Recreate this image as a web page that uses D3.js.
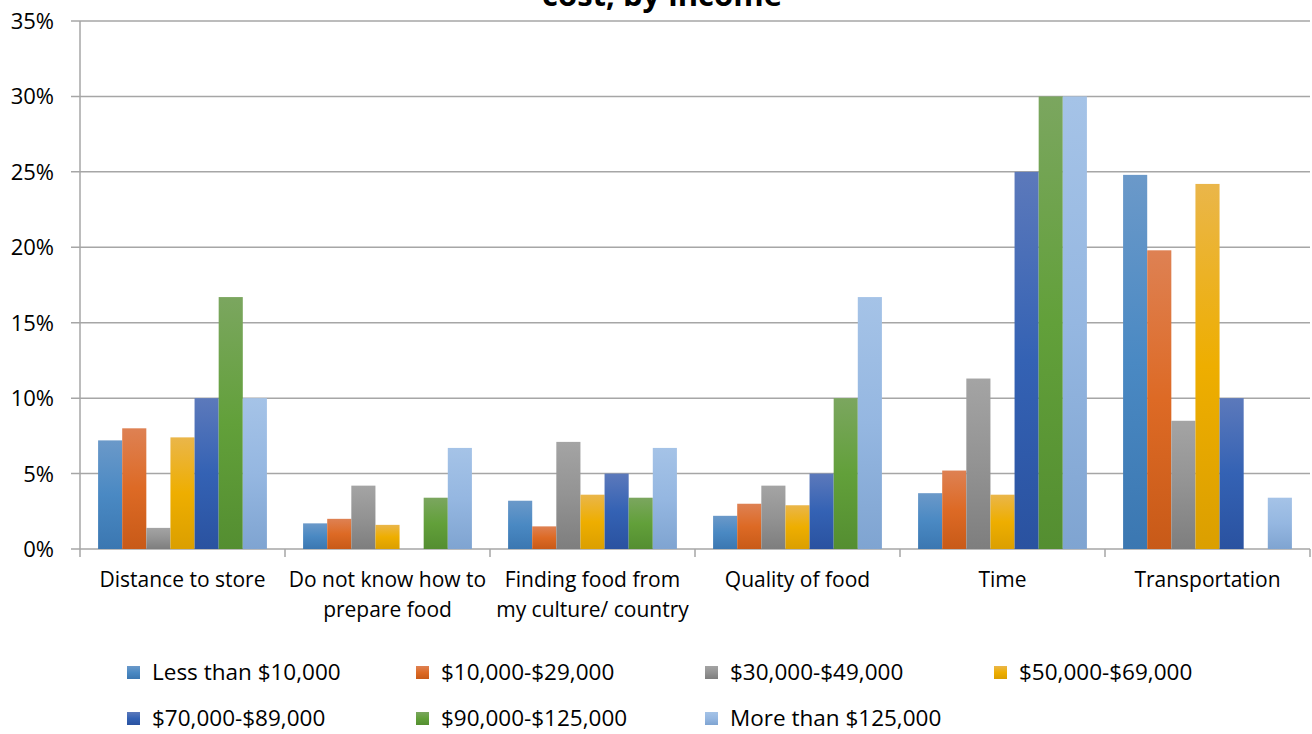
<!DOCTYPE html>
<html>
<head>
<meta charset="utf-8">
<script src="https://cdn.jsdelivr.net/npm/d3@7"></script>
<style>
  html, body { margin: 0; padding: 0; background: #fff; }
  svg { display: block; font-family: "Open Sans", sans-serif; }
</style>
</head>
<body>
<script>
// Data
const categories = [
  ["Distance to store"],
  ["Do not know how to", "prepare food"],
  ["Finding food from", "my culture/ country"],
  ["Quality of food"],
  ["Time"],
  ["Transportation"]
];
const seriesNames = [
  "Less than $10,000", "$10,000-$29,000", "$30,000-$49,000", "$50,000-$69,000",
  "$70,000-$89,000", "$90,000-$125,000", "More than $125,000"
];
// values in %, one array per income group, in category order
const lessThan10k = [7.2, 1.7, 3.2, 2.2, 3.7, 24.8];
const from10to29k = [8.0, 2.0, 1.5, 3.0, 5.2, 19.8];
const from30to49k = [1.4, 4.2, 7.1, 4.2, 11.3, 8.5];
const from50to69k = [7.4, 1.6, 3.6, 2.9, 3.6, 24.2];
const from70to89k = [10.0, 0, 5.0, 5.0, 25.0, 10.0];
const from90to125k = [16.7, 3.4, 3.4, 10.0, 30.0, 0];
const moreThan125k = [10.0, 6.7, 6.7, 16.7, 30.0, 3.4];
const seriesValues = [lessThan10k, from10to29k, from30to49k, from50to69k,
  from70to89k, from90to125k, moreThan125k];
const yTicks = [0, 5, 10, 15, 20, 25, 30, 35];

// gradient stops per series: top, middle, bottom
const colors = [
  ["#6b99c9", "#4a89c3", "#3b77b1"],
  ["#de8153", "#dd6a25", "#c85a18"],
  ["#a4a4a4", "#939393", "#7e7e7e"],
  ["#eab64a", "#eeae00", "#db9f00"],
  ["#5c79bb", "#3462b4", "#2a52a0"],
  ["#7ba65f", "#62a03a", "#548e31"],
  ["#a5c3e7", "#95b7e1", "#7fa4d1"]
];

const W = 1312, H = 734;
const plotLeft = 80, plotRight = 1310, plotTop = 21, plotBottom = 549;

const svg = d3.select("body").append("svg")
  .attr("width", W).attr("height", H);

const defs = svg.append("defs");
colors.forEach((c, i) => {
  const g = defs.append("linearGradient")
    .attr("id", "grad" + i)
    .attr("x1", 0).attr("y1", 0).attr("x2", 0).attr("y2", 1);
  g.append("stop").attr("offset", "0%").attr("stop-color", c[0]);
  g.append("stop").attr("offset", "50%").attr("stop-color", c[1]);
  g.append("stop").attr("offset", "100%").attr("stop-color", c[2]);
});

// Scales
const x0 = d3.scaleBand()
  .domain(d3.range(categories.length))
  .range([plotLeft, plotRight]);

const x1 = d3.scaleBand()
  .domain(d3.range(seriesNames.length))
  .range([0, x0.bandwidth()])
  .paddingOuter(0.75);

const y = d3.scaleLinear()
  .domain([0, 35])
  .range([plotBottom, plotTop]);

// Gridlines
svg.append("g")
  .selectAll("line")
  .data(yTicks)
  .join("line")
    .attr("x1", plotLeft - 9).attr("x2", plotRight)
    .attr("y1", d => y(d)).attr("y2", d => y(d))
    .attr("stroke", "#a6a6a6")
    .attr("stroke-width", 1.5);

// Y labels
svg.append("g")
  .selectAll("text")
  .data(yTicks)
  .join("text")
    .attr("x", 54)
    .attr("y", d => y(d) + 8)
    .attr("text-anchor", "end")
    .attr("font-size", 22)
    .attr("fill", "#000")
    .text(d => d + "%");

// Y axis line
svg.append("line")
  .attr("x1", plotLeft).attr("x2", plotLeft)
  .attr("y1", plotTop).attr("y2", plotBottom)
  .attr("stroke", "#a6a6a6").attr("stroke-width", 1.5);

// Category ticks below axis
svg.append("g")
  .selectAll("line")
  .data(d3.range(categories.length + 1))
  .join("line")
    .attr("x1", d => plotLeft + d * x0.step())
    .attr("x2", d => plotLeft + d * x0.step())
    .attr("y1", plotBottom).attr("y2", plotBottom + 8)
    .attr("stroke", "#a6a6a6").attr("stroke-width", 1.5);

// Bars
const groups = svg.append("g")
  .selectAll("g")
  .data(categories)
  .join("g")
    .attr("transform", (d, i) => `translate(${x0(i)},0)`);

groups.selectAll("rect")
  .data((d, ci) => seriesValues.map((vals, si) => ({ si, v: vals[ci] })))
  .join("rect")
    .attr("x", d => x1(d.si))
    .attr("width", x1.bandwidth())
    .attr("y", d => y(d.v))
    .attr("height", d => plotBottom - y(d.v))
    .attr("fill", d => `url(#grad${d.si})`);

// Category labels
const catLabels = svg.append("g")
  .selectAll("text")
  .data(categories)
  .join("text")
    .attr("x", (d, i) => x0(i) + x0.bandwidth() / 2)
    .attr("y", 587)
    .attr("text-anchor", "middle")
    .attr("font-size", 21)
    .attr("fill", "#000");
catLabels.selectAll("tspan")
  .data(d => d)
  .join("tspan")
    .attr("x", function () { return this.parentNode.getAttribute("x"); })
    .attr("dy", (d, i) => i === 0 ? 0 : 30)
    .text(d => d);

// Title (only lower part visible)
svg.append("text")
  .attr("x", 662)
  .attr("y", 6)
  .attr("text-anchor", "middle")
  .attr("font-weight", "bold")
  .attr("font-size", 31)
  .text("cost, by income");

// Legend
const legend = svg.append("g")
  .selectAll("g")
  .data(seriesNames)
  .join("g")
    .attr("transform", (d, i) => `translate(${127 + (i % 4) * 289},${i < 4 ? 672 : 718})`);

legend.append("rect")
  .attr("x", 0).attr("y", -6)
  .attr("width", 13).attr("height", 13)
  .attr("fill", (d, i) => `url(#grad${i})`);

legend.append("text")
  .attr("x", 25)
  .attr("y", 8)
  .attr("font-size", 22.5)
  .attr("fill", "#000")
  .text(d => d);
</script>
</body>
</html>
